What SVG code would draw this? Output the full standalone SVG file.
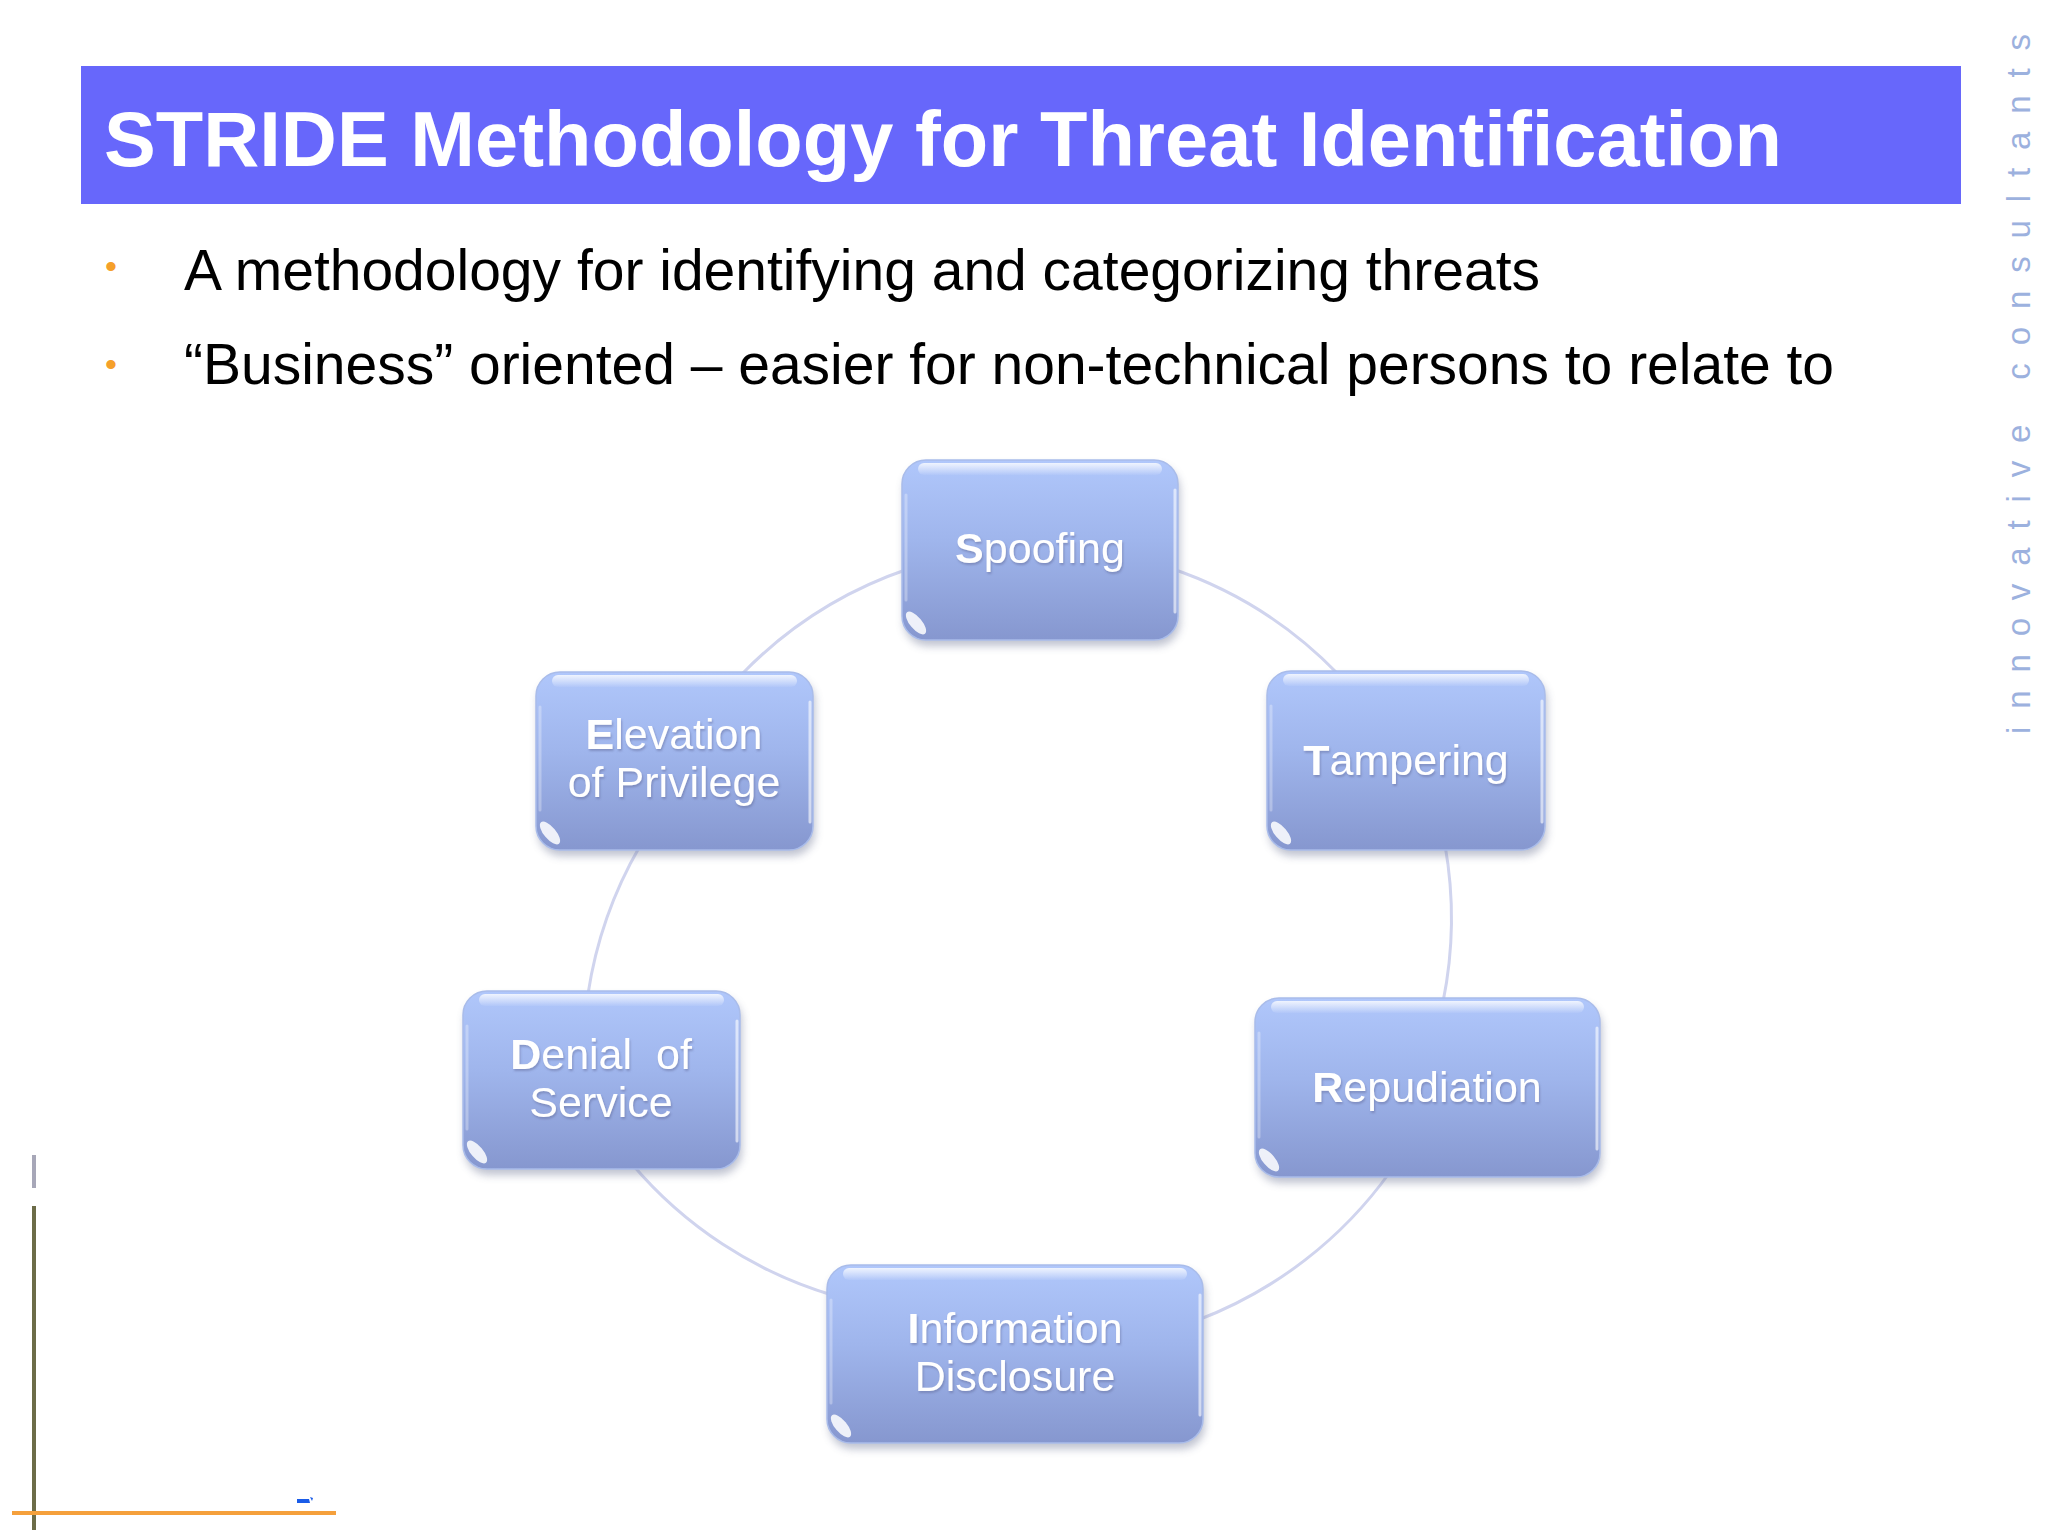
<svg xmlns="http://www.w3.org/2000/svg" width="2048" height="1536" viewBox="0 0 2048 1536">
  <style>
    .title { font-family: "Liberation Sans", Arial, sans-serif; font-weight: bold; font-size: 78px; fill: #ffffff; }
    .bullet { font-family: "Liberation Sans", Arial, sans-serif; font-size: 57px; fill: #000000; }
    .dot { font-family: "Liberation Sans", Arial, sans-serif; font-size: 34px; fill: #f5a02a; }
    .side { font-family: "Liberation Sans", Arial, sans-serif; font-size: 33px; fill: #9cb1de; }
    .label { font-family: "Liberation Sans", Arial, sans-serif; font-size: 43px; fill: #ffffff; text-anchor: middle; }
    .label tspan.b { font-weight: bold; }
    .box { fill: url(#nodeFill); stroke: #a9bcea; stroke-width: 1.5; }
    .shadow { fill: #6f7896; opacity: 0.45; filter: url(#blur); }
    .gloss { fill: url(#glossFill); }
    .edge { stroke: #ffffff; stroke-width: 3; stroke-linecap: round; opacity: 0.6; fill: none; }
    .glint { fill: #ffffff; opacity: 0.85; }
    .conn { fill: none; stroke: #d0d4ee; stroke-width: 3; }
  </style>
  <defs>
    <linearGradient id="nodeFill" x1="0" y1="0" x2="0" y2="1">
      <stop offset="0" stop-color="#b0c7fb"/>
      <stop offset="0.45" stop-color="#9fb5ec"/>
      <stop offset="1" stop-color="#8697cf"/>
    </linearGradient>
    <linearGradient id="glossFill" x1="0" y1="0" x2="0" y2="1">
      <stop offset="0" stop-color="#ffffff" stop-opacity="0.8"/>
      <stop offset="1" stop-color="#ffffff" stop-opacity="0.05"/>
    </linearGradient>
    <filter id="blur" x="-10%" y="-10%" width="120%" height="130%">
      <feGaussianBlur stdDeviation="4"/>
    </filter>
    <filter id="tshadow" x="-5%" y="-20%" width="110%" height="140%">
      <feDropShadow dx="1" dy="2" stdDeviation="1.2" flood-color="#5a6390" flood-opacity="0.45"/>
    </filter>
  </defs>

  <rect x="0" y="0" width="2048" height="1536" fill="#ffffff"/>

  <!-- Title bar -->
  <g id="title">
    <rect x="81" y="66" width="1880" height="138" fill="#6767fb"/>
    <text class="title" x="104" y="166" textLength="1678" lengthAdjust="spacingAndGlyphs">STRIDE Methodology for Threat Identification</text>
  </g>

  <!-- Bullets -->
  <g id="bullets">
    <text class="dot" x="105" y="278">•</text>
    <text class="bullet" x="184" y="290" textLength="1356" lengthAdjust="spacingAndGlyphs">A methodology for identifying and categorizing threats</text>
    <text class="dot" x="105" y="376">•</text>
    <text class="bullet" x="184" y="384" textLength="1650" lengthAdjust="spacingAndGlyphs">“Business” oriented – easier for non-technical persons to relate to</text>
  </g>

  <!-- Side brand text -->
  <text class="side" transform="translate(2030,734) rotate(-90)" textLength="700" lengthAdjust="spacing">innovative consultants</text>

  <!-- Left decorations -->
  <g id="decor">
    <rect x="32" y="1155" width="4" height="33" fill="#a7a7b8"/>
    <rect x="32" y="1206" width="4" height="324" fill="#6c6c48"/>
    <rect x="12" y="1511" width="324" height="4" fill="#f5a03c"/>
    <path d="M297,1499 L309,1499 L310,1503 L297,1503 Z M310,1497 L313,1498 L312,1501 Z" fill="#1a5ce8"/>
  </g>

  <!-- Connectors -->
  <g id="connectors">
    <path class="conn" d="M1170,568 A420,420 0 0 1 1338,674"/>
    <path class="conn" d="M1445,845 A420,420 0 0 1 1443,1002"/>
    <path class="conn" d="M1390,1172 A420,420 0 0 1 1198,1320"/>
    <path class="conn" d="M832,1295 A420,420 0 0 1 632,1164"/>
    <path class="conn" d="M588,994 A420,420 0 0 1 640,846"/>
    <path class="conn" d="M742,674 A420,420 0 0 1 908,569"/>
  </g>

  <!-- Spoofing -->
  <g id="node-spoofing">
    <rect class="shadow" x="904" y="466" width="276" height="180" rx="24"/>
    <rect class="box" x="902" y="460" width="276" height="180" rx="24"/>
    <rect class="gloss" x="918" y="463" width="244" height="12" rx="6"/>
    <line class="edge" x1="1175" y1="490" x2="1175" y2="612"/>
    <line class="edge" x1="906" y1="495" x2="906" y2="600" style="opacity:0.3"/>
    <ellipse class="glint" cx="916" cy="623" rx="14" ry="6" transform="rotate(50 916 623)"/>
    <text class="label" x="1040" y="563" filter="url(#tshadow)"><tspan class="b">S</tspan>poofing</text>
  </g>

  <!-- Tampering -->
  <g id="node-tampering">
    <rect class="shadow" x="1269" y="677" width="278" height="179" rx="24"/>
    <rect class="box" x="1267" y="671" width="278" height="179" rx="24"/>
    <rect class="gloss" x="1283" y="674" width="246" height="12" rx="6"/>
    <line class="edge" x1="1542" y1="701" x2="1542" y2="822"/>
    <line class="edge" x1="1271" y1="706" x2="1271" y2="810" style="opacity:0.3"/>
    <ellipse class="glint" cx="1281" cy="833" rx="14" ry="6" transform="rotate(50 1281 833)"/>
    <text class="label" x="1406" y="775" filter="url(#tshadow)"><tspan class="b">T</tspan>ampering</text>
  </g>

  <!-- Repudiation -->
  <g id="node-repudiation">
    <rect class="shadow" x="1257" y="1004" width="345" height="179" rx="24"/>
    <rect class="box" x="1255" y="998" width="345" height="179" rx="24"/>
    <rect class="gloss" x="1271" y="1001" width="313" height="12" rx="6"/>
    <line class="edge" x1="1597" y1="1028" x2="1597" y2="1149"/>
    <line class="edge" x1="1259" y1="1033" x2="1259" y2="1137" style="opacity:0.3"/>
    <ellipse class="glint" cx="1269" cy="1160" rx="14" ry="6" transform="rotate(50 1269 1160)"/>
    <text class="label" x="1427" y="1102" filter="url(#tshadow)"><tspan class="b">R</tspan>epudiation</text>
  </g>

  <!-- Information Disclosure -->
  <g id="node-information-disclosure">
    <rect class="shadow" x="829" y="1271" width="376" height="178" rx="24"/>
    <rect class="box" x="827" y="1265" width="376" height="178" rx="24"/>
    <rect class="gloss" x="843" y="1268" width="344" height="12" rx="6"/>
    <line class="edge" x1="1200" y1="1295" x2="1200" y2="1415"/>
    <line class="edge" x1="831" y1="1300" x2="831" y2="1403" style="opacity:0.3"/>
    <ellipse class="glint" cx="841" cy="1426" rx="14" ry="6" transform="rotate(50 841 1426)"/>
    <text class="label" filter="url(#tshadow)"><tspan class="b" x="1015" y="1343">I</tspan><tspan>nformation</tspan><tspan x="1015" y="1391">Disclosure</tspan></text>
  </g>

  <!-- Denial of Service -->
  <g id="node-denial-of-service">
    <rect class="shadow" x="465" y="997" width="277" height="178" rx="24"/>
    <rect class="box" x="463" y="991" width="277" height="178" rx="24"/>
    <rect class="gloss" x="479" y="994" width="245" height="12" rx="6"/>
    <line class="edge" x1="737" y1="1021" x2="737" y2="1141"/>
    <line class="edge" x1="467" y1="1026" x2="467" y2="1129" style="opacity:0.3"/>
    <ellipse class="glint" cx="477" cy="1152" rx="14" ry="6" transform="rotate(50 477 1152)"/>
    <text class="label" filter="url(#tshadow)" xml:space="preserve"><tspan class="b" x="601" y="1069">D</tspan><tspan>enial  of</tspan><tspan x="601" y="1117">Service</tspan></text>
  </g>

  <!-- Elevation of Privilege -->
  <g id="node-elevation-of-privilege">
    <rect class="shadow" x="538" y="678" width="277" height="178" rx="24"/>
    <rect class="box" x="536" y="672" width="277" height="178" rx="24"/>
    <rect class="gloss" x="552" y="675" width="245" height="12" rx="6"/>
    <line class="edge" x1="810" y1="702" x2="810" y2="822"/>
    <line class="edge" x1="540" y1="707" x2="540" y2="810" style="opacity:0.3"/>
    <ellipse class="glint" cx="550" cy="833" rx="14" ry="6" transform="rotate(50 550 833)"/>
    <text class="label" filter="url(#tshadow)"><tspan class="b" x="674" y="749">E</tspan><tspan>levation</tspan><tspan x="674" y="797">of Privilege</tspan></text>
  </g>
</svg>
